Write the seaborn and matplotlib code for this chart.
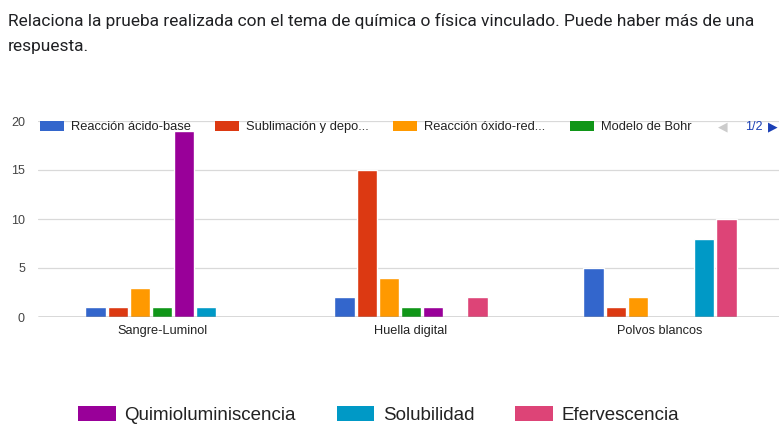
import matplotlib
matplotlib.use("Agg")
import matplotlib.pyplot as plt
from matplotlib.patches import Patch
import seaborn as sns
import pandas as pd

# Survey answers: which chemistry/physics topic each test relates to
categories = ["Sangre-Luminol", "Huella digital", "Polvos blancos"]
series = [
    "Reacción ácido-base",
    "Sublimación y depo...",
    "Reacción óxido-red...",
    "Modelo de Bohr",
    "Quimioluminiscencia",
    "Solubilidad",
    "Efervescencia",
]
acido_base = [1, 2, 5]
sublimacion = [1, 15, 1]
oxido_red = [3, 4, 2]
modelo_bohr = [1, 1, 0]
quimioluminiscencia = [19, 1, 0]
solubilidad = [1, 0, 8]
efervescencia = [0, 2, 10]
y_ticks = [0, 5, 10, 15, 20]

colors = ["#3366cc", "#dc3912", "#ff9900", "#109618", "#990099", "#0099c6", "#dd4477"]
values = [acido_base, sublimacion, oxido_red, modelo_bohr,
          quimioluminiscencia, solubilidad, efervescencia]

rows = []
for name, vals in zip(series, values):
    for cat, v in zip(categories, vals):
        rows.append({"categoria": cat, "tema": name, "respuestas": v})
df = pd.DataFrame(rows)

sns.set_theme(style="white")
plt.rcParams["font.family"] = ["Liberation Sans", "DejaVu Sans"]

fig = plt.figure(figsize=(7.79, 4.28), dpi=100)
ax = fig.add_axes([37.5 / 779, 1 - 317 / 428, 747 / 779, (317 - 121) / 428])

sns.barplot(data=df, x="categoria", y="respuestas", hue="tema",
            order=categories, hue_order=series, palette=colors,
            width=0.62, gap=0.06, saturation=1, ax=ax, legend=False)

ax.set_ylim(0, 20)
ax.set_yticks(y_ticks)
ax.set_xlabel("")
ax.set_ylabel("")
for s in ax.spines.values():
    s.set_visible(False)
ax.grid(axis="y", color="#d9d9d9", linewidth=0.9)
ax.set_axisbelow(True)
ax.axhline(0, color="#555555", linewidth=1.0, zorder=3)
ax.tick_params(axis="y", length=0, pad=9, labelsize=9, labelcolor="#444444")
ax.tick_params(axis="x", length=0, pad=6, labelsize=9.2, labelcolor="#222222")

# Question text
fig.text(8 / 779, 1 - 21 / 428,
         "Relaciona la prueba realizada con el tema de química o física vinculado. Puede haber más de una",
         fontsize=12.5, family="Roboto", color="#202124", va="center", ha="left")
fig.text(8 / 779, 1 - 46 / 428, "respuesta.",
         fontsize=12.5, family="Roboto", color="#202124", va="center", ha="left")

# Paged legend, page 1 on top
handles = [Patch(facecolor=c, edgecolor="none") for c in colors]
top = fig.legend(handles[:4], series[:4], loc="center left",
                 bbox_to_anchor=(40 / 779, 1 - 127 / 428), ncol=4, frameon=False,
                 fontsize=9.3, handlelength=1.85, handleheight=0.8,
                 handletextpad=0.55, columnspacing=1.88, borderaxespad=0,
                 borderpad=0)
for t in top.get_texts():
    t.set_color("#222222")
fig.text(723 / 779, 1 - 127 / 428, "◀", color="#cccccc", fontsize=9,
         ha="center", va="center", family="DejaVu Sans")
fig.text(754 / 779, 1 - 127 / 428, "1/2", color="#1a3fb5", fontsize=9,
         ha="center", va="center")
fig.text(773 / 779, 1 - 127 / 428, "▶", color="#1a3fb5", fontsize=9,
         ha="center", va="center", family="DejaVu Sans")

# Remaining entries shown below the chart
bottom = fig.legend(handles[4:], series[4:], loc="center left",
                    bbox_to_anchor=(78 / 779, 1 - 415 / 428), ncol=3, frameon=False,
                    fontsize=13.5, handlelength=2.0, handleheight=0.8,
                    handletextpad=0.45, columnspacing=2.2, borderaxespad=0,
                    borderpad=0)
for t in bottom.get_texts():
    t.set_color("#222222")

fig.savefig("out.png", dpi=100)
